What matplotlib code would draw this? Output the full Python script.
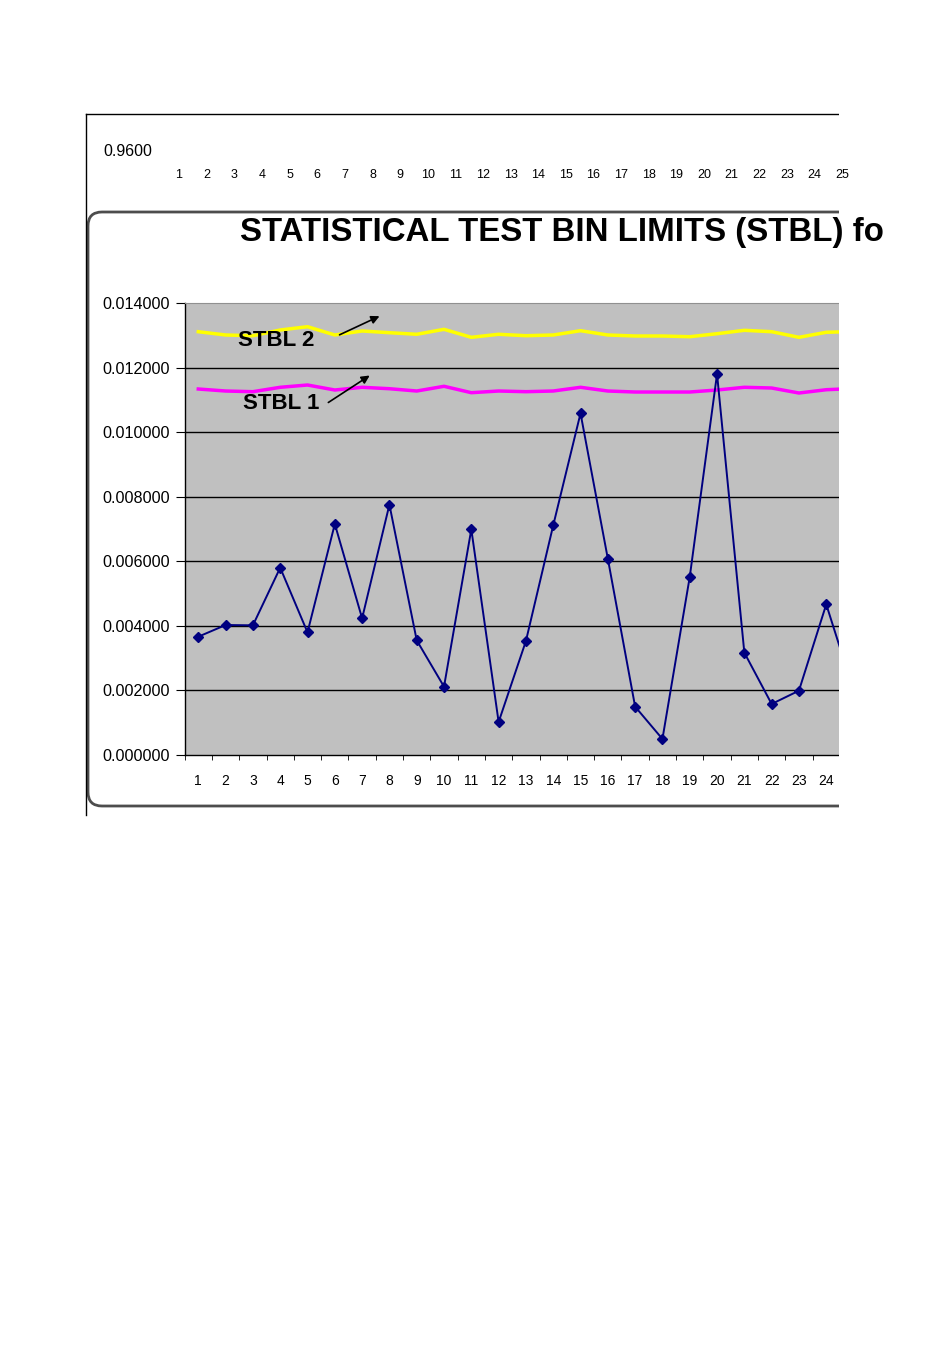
import matplotlib
matplotlib.use('Agg')
import numpy as np
import matplotlib.pyplot as plt
from matplotlib.patches import FancyBboxPatch, Rectangle
from matplotlib.lines import Line2D

plt.rcParams['font.family'] = ['Liberation Sans', 'DejaVu Sans']

# bin numbers (category axis)
bins = list(range(1, 26))
top_labels = [str(b) for b in bins]
top_value = [0.96]

# measured fraction per bin
measured = [0.003664, 0.004026, 0.004017, 0.005801, 0.003799, 0.007155, 0.004233,
            0.007754, 0.003552, 0.002117, 0.006990, 0.001022, 0.003531, 0.007114,
            0.010583, 0.006081, 0.001497, 0.000496, 0.005513, 0.011801, 0.003170,
            0.001580, 0.001992, 0.004667, 0.001997]

# limit lines
stbl1 = [0.011336, 0.011274, 0.011253, 0.011389, 0.011460, 0.011305, 0.011389,
         0.011345, 0.011274, 0.011420, 0.011222, 0.011274, 0.011253, 0.011274,
         0.011389, 0.011274, 0.011243, 0.011243, 0.011243, 0.011305, 0.011389,
         0.011367, 0.011212, 0.011314, 0.011351]
stbl2 = [0.013111, 0.013009, 0.012987, 0.013164, 0.013266, 0.013009, 0.013133,
         0.013080, 0.013031, 0.013185, 0.012937, 0.013031, 0.012987, 0.013009,
         0.013142, 0.013009, 0.012978, 0.012978, 0.012956, 0.013049, 0.013154,
         0.013111, 0.012937, 0.013093, 0.013117]

yticks = [0.0, 0.002, 0.004, 0.006, 0.008, 0.010, 0.012, 0.014]

W, H = 950, 1345
fig = plt.figure(figsize=(W / 100, H / 100), dpi=100)
fig.patch.set_facecolor('white')

def px(x0, y0, x1, y1):
    # pixel box -> figure fraction [left, bottom, width, height]
    return [x0 / W, (H - y1) / H, (x1 - x0) / W, (y1 - y0) / H]

# --- clipped upper strip (left over from another chart) ---
ax_top = fig.add_axes(px(165.2, 140, 856, 160))
ax_top.set_zorder(10)
ax_top.patch.set_visible(False)
for s in ax_top.spines.values():
    s.set_visible(False)
ax_top.set_xlim(0.5, 25.5)
ax_top.set_ylim(0.95, 0.97)
ax_top.set_xticks(bins)
ax_top.set_xticklabels(top_labels, fontsize=9)
ax_top.set_yticks(top_value)
ax_top.set_yticklabels(['%.4f' % v for v in top_value], fontsize=11.5)
ax_top.tick_params(axis='x', length=0, pad=6.5)
ax_top.tick_params(axis='y', length=0, pad=9.5)

# page lines
fig.add_artist(Line2D([86 / W, 838 / W], [(H - 114) / H] * 2, color='black', lw=1))
fig.add_artist(Line2D([86 / W] * 2, [(H - 114) / H, (H - 815) / H], color='black', lw=1))

# rounded chart frame
frame = FancyBboxPatch(((88) / 100, (H - 806) / 100), 8.0, (806 - 212) / 100,
                       boxstyle='round,pad=0,rounding_size=0.14',
                       transform=fig.dpi_scale_trans, facecolor='white',
                       edgecolor='#4d4d4d', lw=2, zorder=-1)
fig.add_artist(frame)

# --- main plot ---
ax = fig.add_axes(px(184.65, 303, 867.2, 755))
ax.set_facecolor('#c0c0c0')
ax.set_xlim(0.5, 25.5)
ax.set_ylim(0, 0.014)
for v in yticks[1:-1]:
    ax.axhline(v, color='black', lw=1, zorder=1)

ax.plot(bins, stbl2, color='#ffff00', lw=2.5, zorder=3)
ax.plot(bins, stbl1, color='#ff00ff', lw=2.5, zorder=3)
ax.plot(bins, measured, color='#000080', lw=1.4, marker='D', ms=5.5,
        mfc='#000080', mec='#000080', zorder=4)

ax.set_yticks(yticks)
ax.set_yticklabels(['%.6f' % v for v in yticks], fontsize=11.6)
ax.set_xticks(bins)
ax.set_xticklabels([str(b) for b in bins], fontsize=10)
ax.set_xticks(np.arange(0.5, 26, 1), minor=True)
ax.tick_params(axis='x', which='major', length=0, pad=14)
ax.tick_params(axis='x', which='minor', length=3.5, direction='out')
ax.tick_params(axis='y', length=6.5, direction='out', pad=4)
for side in ['top', 'right']:
    ax.spines[side].set_color('#909090')
for side in ['left', 'bottom']:
    ax.spines[side].set_color('black')
    ax.spines[side].set_linewidth(1)

def dx(p):
    return 0.5 + (p - 184.65) / 27.3

def dy(p):
    return (755 - p) / 32286.0

ax.text(dx(238), dy(340), 'STBL 2', fontsize=16, fontweight='bold', va='center', zorder=6)
ax.text(dx(243), dy(403), 'STBL 1', fontsize=16, fontweight='bold', va='center', zorder=6)
ax.annotate('', xy=(dx(382), dy(315)), xytext=(dx(337), dy(336)),
            arrowprops=dict(arrowstyle='-|>', color='black', lw=1.2, mutation_scale=12), zorder=6)
ax.annotate('', xy=(dx(372), dy(374)), xytext=(dx(326), dy(404)),
            arrowprops=dict(arrowstyle='-|>', color='black', lw=1.2, mutation_scale=12), zorder=6)

# clip everything right of the page edge
fig.add_artist(Rectangle((838.5 / W, (H - 830) / H), (W - 838.5) / W, 730 / H,
                         transform=fig.transFigure, facecolor='white',
                         edgecolor='none', zorder=5))

fig.text(240 / W, (H - 233) / H, 'STATISTICAL TEST BIN LIMITS (STBL) fo',
         fontsize=23.8, fontweight='bold', va='center', ha='left', zorder=10)

fig.savefig('out.png', dpi=100)
